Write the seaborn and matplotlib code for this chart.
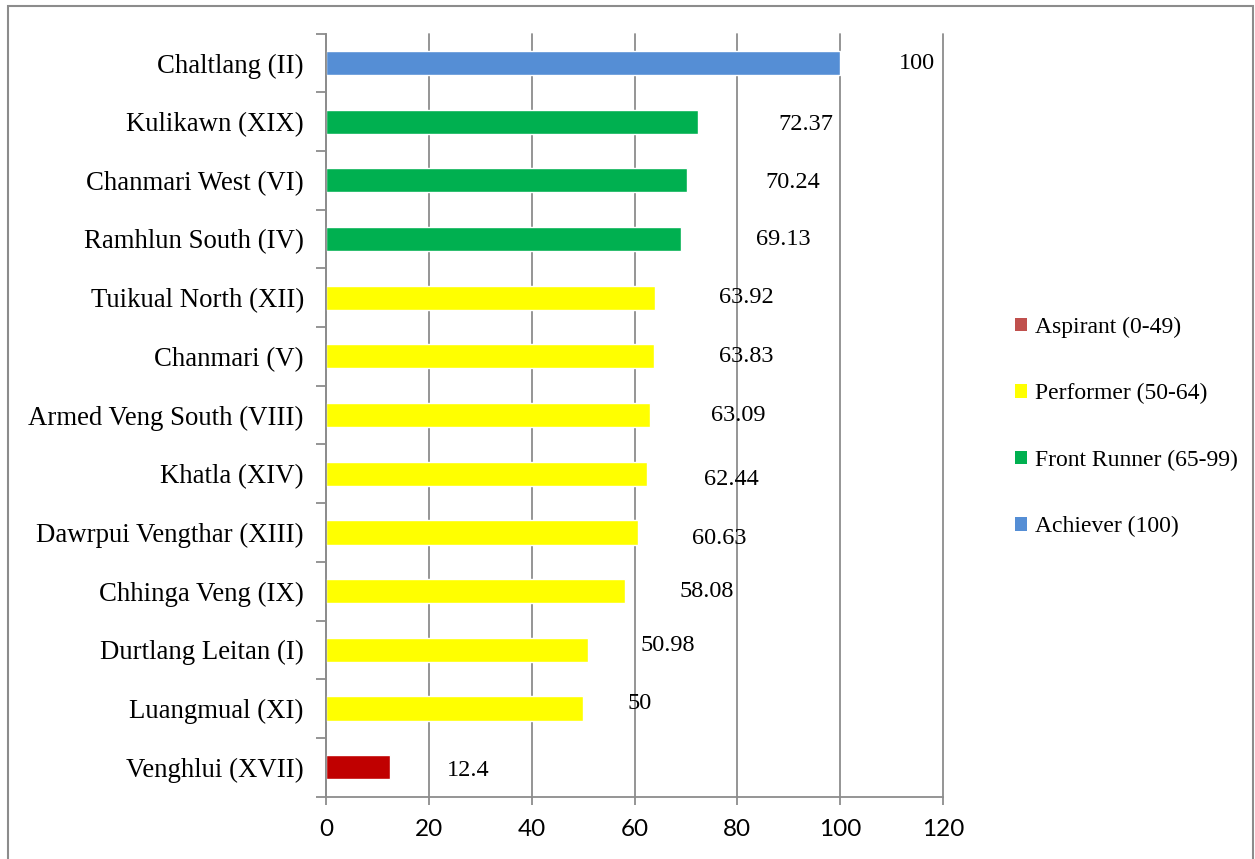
import matplotlib
matplotlib.use("Agg")
import matplotlib.pyplot as plt
from matplotlib.patches import Patch, Rectangle
import seaborn as sns
import pandas as pd

# Ward scores and their performance band
wards = ["Chaltlang (II)", "Kulikawn (XIX)", "Chanmari West (VI)", "Ramhlun South (IV)",
         "Tuikual North (XII)", "Chanmari (V)", "Armed Veng South (VIII)", "Khatla (XIV)",
         "Dawrpui Vengthar (XIII)", "Chhinga Veng (IX)", "Durtlang Leitan (I)",
         "Luangmual (XI)", "Venghlui (XVII)"]
scores = [100, 72.37, 70.24, 69.13, 63.92, 63.83, 63.09, 62.44, 60.63, 58.08, 50.98, 50, 12.4]
score_labels = ["100", "72.37", "70.24", "69.13", "63.92", "63.83", "63.09", "62.44",
                "60.63", "58.08", "50.98", "50", "12.4"]
bands = ["Achiever (100)", "Front Runner (65-99)", "Front Runner (65-99)", "Front Runner (65-99)",
         "Performer (50-64)", "Performer (50-64)", "Performer (50-64)", "Performer (50-64)",
         "Performer (50-64)", "Performer (50-64)", "Performer (50-64)", "Performer (50-64)",
         "Aspirant (0-49)"]
legend_order = ["Aspirant (0-49)", "Performer (50-64)", "Front Runner (65-99)", "Achiever (100)"]
x_ticks = [0, 20, 40, 60, 80, 100, 120]

# Styling
bar_colors = {"Aspirant (0-49)": "#C00000", "Performer (50-64)": "#FFFF00",
              "Front Runner (65-99)": "#00B050", "Achiever (100)": "#558ED5"}
legend_colors = {"Aspirant (0-49)": "#C0504D", "Performer (50-64)": "#FFFF00",
                 "Front Runner (65-99)": "#00B050", "Achiever (100)": "#558ED5"}
label_dx = [15, 21, 20.5, 19.8, 17.8, 17.9, 17, 16.4, 15.9, 16, 15.5, 11, 15.2]
label_dy = [0, 0.05, 0.03, 0, 0, 0, 0, 0.1, 0.1, 0, -0.08, -0.08, 0.05]
grid_color = "#8C8C8C"

df = pd.DataFrame({"ward": wards, "score": scores, "band": bands})

sns.set_theme(style="white")
plt.rcParams["text.color"] = "black"
serif = ["Liberation Serif", "DejaVu Serif"]
sans = ["Lato", "DejaVu Sans"]

fig = plt.figure(figsize=(12.55, 8.59), dpi=100)
ax = fig.add_axes([0.2598, 0.0727, 0.4916, 0.8881])

sns.barplot(data=df, y="ward", x="score", hue="band", palette=bar_colors,
            dodge=False, orient="h", width=0.41, ax=ax, legend=False,
            saturation=1, order=wards)

ax.set_xlim(0, 120)
ax.set_ylim(len(wards) - 0.5, -0.5)
ax.set_xticks(x_ticks)
ax.set_xticklabels([str(t) for t in x_ticks], fontfamily=sans, fontsize=17.5)
ax.set_yticks(range(len(wards)))
ax.set_yticklabels(wards, fontfamily=serif, fontsize=19.3)
ax.set_yticks([i - 0.5 for i in range(len(wards) + 1)], minor=True)
ax.tick_params(axis="y", which="major", left=True, length=0, pad=16, labelcolor="black")
ax.tick_params(axis="y", which="minor", left=True, length=7, width=1.3,
               color=grid_color, direction="out")
ax.tick_params(axis="x", which="major", bottom=True, length=6, width=1.3, color=grid_color,
               direction="out", pad=10, labelcolor="black")
ax.set_xlabel("")
ax.set_ylabel("")

ax.xaxis.grid(True, color=grid_color, linewidth=1.3)
for gl in ax.get_xgridlines():
    gl.set_clip_on(False)
ax.set_axisbelow(True)
for side in ["top", "right"]:
    ax.spines[side].set_visible(False)
for side in ["left", "bottom"]:
    ax.spines[side].set_color(grid_color)
    ax.spines[side].set_linewidth(1.3)

for i, (v, txt) in enumerate(zip(scores, score_labels)):
    ax.text(v + label_dx[i], i + label_dy[i], txt, ha="center", va="center",
            fontfamily=serif, fontsize=17.5, color="black")

handles = [Patch(facecolor=legend_colors[b], edgecolor="none", label=b) for b in legend_order]
fig.legend(handles=handles, loc="center left", bbox_to_anchor=(0.792, 0.503),
           frameon=False, prop={"family": serif, "size": 17},
           handlelength=0.5, handleheight=0.5, handletextpad=0.35, labelspacing=1.92)

# outer chart frame
fig.add_artist(Rectangle((8 / 1255, -0.02), 1245 / 1255, 1.02 - 6 / 859,
                         transform=fig.transFigure, fill=False,
                         edgecolor="#8C8C8C", linewidth=1.5))

fig.savefig("out.png", dpi=100)
